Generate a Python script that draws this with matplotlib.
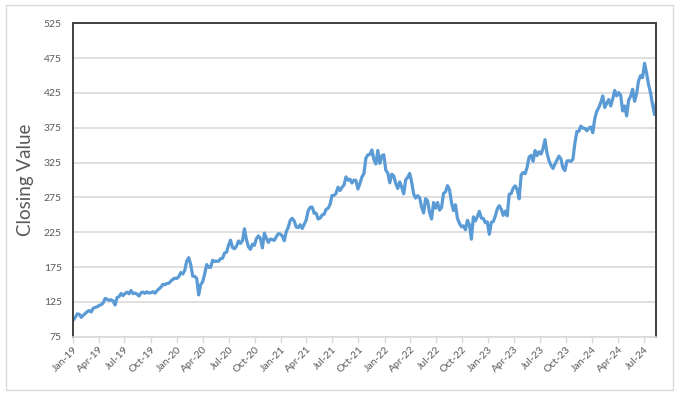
import numpy as np
import pandas as pd
import matplotlib
matplotlib.use("Agg")
import matplotlib.pyplot as plt
import matplotlib.dates as mdates
from matplotlib.patches import Rectangle

plt.rcParams['font.family'] = ['Lato', 'DejaVu Sans']

# weekly closing values (Jan 2019 - Aug 2024)
close_2019 = [99, 102.8, 107.7, 107.2,
              102.8, 105.7, 108.2, 111.0,
              112.5, 110.5, 115.9, 117.0, 118.0,
              119.9, 121.0, 123.4, 129.9,
              128.9, 127.1, 128.1, 126.2, 120.5,
              131.4, 132.5, 137.0, 134.0,
              137.1, 138.9, 136.6, 141.3,
              136.9, 137.7, 136.1, 133.4, 137.9,
              139.1, 137.3, 139.4, 137.7,
              138.1, 139.7, 137.4, 140.7,
              143.7, 146.0, 150.0, 149.6, 151.4,
              151.8, 154.5, 157.4, 159.0]
close_2020 = [158.6, 161.3, 167.1, 165.0, 170.2,
              183.9, 188.5, 178.6, 162.0,
              161.6, 158.8, 135.0, 149.7,
              153.8, 165.1, 178.6, 174.6,
              174.6, 184.7, 183.2, 183.5, 183.3,
              187.2, 187.7, 195.2, 196.3,
              206.3, 213.7, 202.9, 201.3, 205.0,
              212.5, 208.9, 213.0, 230.0,
              214.3, 204.0, 200.4, 207.8,
              206.2, 215.8, 219.7, 216.2, 202.5,
              223.7, 216.5, 210.4, 215.2,
              214.4, 213.3, 218.6, 222.8]
close_2021 = [222.4, 219.6, 212.7, 226.0, 232.0,
              242.2, 245.0, 241.0, 232.4,
              231.6, 235.8, 230.4, 236.5,
              242.4, 255.9, 260.7, 261.2, 252.2,
              252.5, 244.0, 245.2, 249.7,
              250.8, 257.9, 259.4, 265.0,
              277.7, 277.9, 280.8, 289.7, 284.9,
              289.5, 292.9, 304.4, 299.7,
              301.1, 295.7, 299.9, 299.4,
              287.0, 294.9, 304.2, 309.2, 331.6,
              336.1, 336.7, 343.1, 329.7,
              323.0, 342.5, 323.8, 334.7, 336.3]
close_2022 = [314.0, 310.2, 296.0, 308.3,
              305.9, 295.0, 287.9, 297.3,
              289.9, 280.1, 300.4, 303.7,
              309.4, 297.0, 279.8, 274.0, 277.5,
              274.7, 261.1, 252.6, 273.2,
              270.0, 253.0, 244.0, 267.7,
              259.6, 267.7, 256.7, 260.4, 280.7,
              282.9, 291.9, 286.2, 268.1,
              256.1, 264.5, 244.7, 237.9, 232.9,
              234.2, 228.6, 242.1, 235.9,
              215.0, 247.1, 241.2, 247.5,
              255.0, 245.4, 244.7, 238.7, 239.8]
close_2023 = [222.0, 239.2, 240.2, 248.2,
              258.4, 263.1, 258.1, 249.2,
              255.3, 248.6, 279.4, 280.6, 288.3,
              291.6, 286.1, 273.0, 307.3,
              310.7, 309.0, 318.3, 332.9,
              335.4, 326.8, 342.3, 335.0, 340.5,
              337.2, 345.2, 358.0, 338.4,
              327.8, 321.0, 316.5, 323.0,
              328.7, 334.3, 330.2, 317.0, 313.5,
              327.3, 327.7, 326.7, 329.8,
              352.8, 369.7, 369.9, 377.4,
              374.5, 374.2, 370.7, 374.6, 376.0]
close_2024 = [367.8, 388.5, 398.7, 403.9,
              411.2, 420.6, 404.1, 410.3,
              415.5, 406.2, 416.4, 428.7, 420.7,
              425.5, 421.9, 399.1, 406.3,
              392.0, 414.7, 420.2, 430.2, 413.0,
              423.9, 442.6, 449.8, 447.0,
              467.6, 453.6, 437.1, 425.3,
              408.5, 394.0, 412.0]

closes = close_2019 + close_2020 + close_2021 + close_2022 + close_2023 + close_2024
dates = pd.date_range("2019-01-02", periods=len(closes), freq="7D")

tick_dates = pd.date_range("2019-01-01", "2024-07-01", freq="3MS")
y_ticks = np.arange(75, 526, 50)

fig = plt.figure(figsize=(6.79, 3.98), dpi=100)
fig.patch.set_facecolor("white")
fig.patches.append(Rectangle((6 / 679, 8 / 398), 667 / 679, 385 / 398,
                             transform=fig.transFigure, fill=False,
                             edgecolor="#d9d9d9", linewidth=1.0))

ax = fig.add_axes([73 / 679, 61.3 / 398, 583.5 / 679, 313.4 / 398])
ax.plot(dates, closes, color="#5B9BD5", linewidth=2.3, solid_joinstyle="round")

ax.set_xlim(pd.Timestamp("2019-01-01"), dates[-1])
ax.set_ylim(75, 525)
ax.set_yticks(y_ticks)
ax.set_xticks(tick_dates)
ax.xaxis.set_major_formatter(mdates.DateFormatter("%b-%y"))

ax.grid(axis="y", color="#d9d9d9", linewidth=1.2)
ax.set_axisbelow(True)
for side in ["left", "right", "top"]:
    ax.spines[side].set_color("#404040")
    ax.spines[side].set_linewidth(1.4)
ax.spines["bottom"].set_color("#d9d9d9")
ax.spines["bottom"].set_linewidth(1.2)

ax.tick_params(axis="y", length=0, pad=8, labelsize=7.5, labelcolor="#595959")
ax.tick_params(axis="x", length=4, width=1, color="#d9d9d9", pad=2,
               labelsize=7.5, labelcolor="#595959")
for lbl in ax.get_xticklabels():
    lbl.set_rotation(45)
    lbl.set_ha("right")
    lbl.set_rotation_mode("anchor")

ax.set_ylabel("Closing Value", fontsize=13.5, color="#595959", labelpad=7)

fig.savefig("out.png", dpi=100)
